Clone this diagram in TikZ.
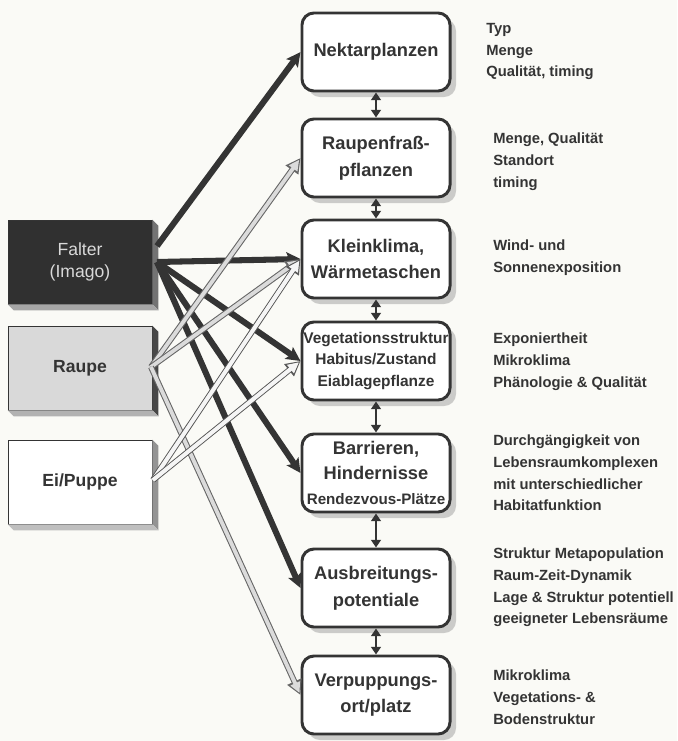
\documentclass[tikz,border=0pt]{standalone}
\usepackage{fontspec}
\setmainfont{Liberation Sans}
\usetikzlibrary{arrows.meta,shadows,calc}
\definecolor{paper}{RGB}{250,250,246}
\definecolor{ink}{RGB}{52,52,52}

\begin{document}
\begin{tikzpicture}[x=0.025cm, y=-0.025cm, font=\bfseries,
      stage/.style={draw=ink, line width=2.1pt, rounded corners=0.3cm, fill=white, text=ink,
        minimum width=3.7cm, minimum height=1.95cm, align=center, inner xsep=0pt,
        font=\bfseries\fontsize{13}{19}\selectfont,
        drop shadow={shadow xshift=0.15cm, shadow yshift=-0.15cm, fill=black!38}},
      phase/.style={draw=ink, line width=0.5pt, minimum width=3.6cm, minimum height=2.1cm,
        align=center, text=ink, font=\bfseries\fontsize{12.5}{16}\selectfont},
      note/.style={anchor=north west, align=left, inner sep=0pt, text=ink,
        font=\bfseries\fontsize{10.5}{15.35}\selectfont},
      imago/.style={draw=ink, line width=4.3pt, -{Stealth[length=10pt, width=10pt, inset=2pt]}},
      larva/.style={draw=black!60, line width=4.2pt, -{Triangle[length=10.5pt, width=10.5pt]},
        postaction={draw=black!14, line width=2.7pt, -{Triangle[length=7.5pt, width=7pt]}, shorten >=1.6pt}},
      egg/.style={larva, draw=black!65, postaction={draw=white!96!black, line width=2.7pt,
        -{Triangle[length=7.5pt, width=7pt]}, shorten >=1.6pt}},
      link/.style={draw=ink, line width=1.5pt, {Triangle[length=5.5pt, width=7pt]}-{Triangle[length=5.5pt, width=7pt]}}]
    \fill[paper] (0,0) rectangle (677,741);

    % life stages
    \node[phase, fill=black!81, text=white!85!black, font=\fontsize{12.5}{16}\selectfont] (falter) at (80,262) {Falter\\(Imago)};
    \node[phase, fill=black!15] (raupe) at (80,368) {Raupe};
    \node[phase, fill=white] (ei) at (80,482) {Ei/Puppe};
    \foreach \n/\s/\b in {falter/black!55/black!35, raupe/black!72/black!30, ei/black!42/black!25} {
      \fill[\s] (\n.north east) -- ++(6,6) -- ($(\n.south east)+(6,6)$) -- (\n.south east) -- cycle;
      \fill[\b] (\n.south west) -- (\n.south east) -- ($(\n.south east)+(6,6)$) -- ($(\n.south west)+(6,6)$) -- cycle;
    }
    \coordinate (falterout) at (157,262);
    \coordinate (raupeout) at (151,367);
    \coordinate (eiout) at (153,480);

    % habitat requirements
    \node[stage] (nektar) at (376,52) {Nektarplanzen};
    \node[stage] (raupenfrass) at (376,158) {Raupenfraß-\\pflanzen};
    \node[stage] (kleinklima) at (376,259) {Kleinklima,\\Wärmetaschen};
    \node[stage, font=\bfseries\fontsize{11}{15.5}\selectfont] (vegstruktur) at (376,361) {Vegetationsstruktur\\Habitus/Zustand\\Eiablagepflanze};
    \node[stage, font=\bfseries\fontsize{13}{17.5}\selectfont] (barrieren) at (376,473) {Barrieren,\\Hindernisse\\{\fontsize{10.8}{14}\selectfont Rendezvous-Plätze}};
    \node[stage] (ausbreitung) at (376,588) {Ausbreitungs-\\potentiale};
    \node[stage] (verpuppung) at (376,695) {Verpuppungs-\\ort/platz};

    \draw[link] (nektar) -- (raupenfrass);
    \draw[link] (raupenfrass) -- (kleinklima);
    \draw[link] (kleinklima) -- (vegstruktur);
    \draw[link] (vegstruktur) -- (barrieren);
    \draw[link] (barrieren) -- (ausbreitung);
    \draw[link] (ausbreitung) -- (verpuppung);

    \draw[imago] ([yshift=0.4cm]falterout) -- (nektar.west);
    \draw[imago] (falterout) -- (kleinklima.west);
    \draw[imago] (falterout) -- (vegstruktur.west);
    \draw[imago] (falterout) -- (barrieren.west);
    \draw[imago] (falterout) -- (ausbreitung.west);

    \draw[larva] (raupeout) -- (raupenfrass.west);
    \draw[larva] (raupeout) -- (kleinklima.west);
    \draw[larva] (raupeout) -- (verpuppung.west);
    \draw[egg] (eiout) -- (kleinklima.west);
    \draw[egg] (eiout) -- (vegstruktur.west);

    % details
    \node[note] (n1) at (486,23) {Typ\\Menge\\Qualität, timing};
    \node[note] (n2) at (493,133) {Menge, Qualität\\Standort\\timing};
    \node[note] (n3) at (493,240) {Wind- und\\Sonnenexposition};
    \node[note] (n4) at (493,333) {Exponiertheit\\Mikroklima\\Phänologie \& Qualität};
    \node[note] (n5) at (493,435) {Durchgängigkeit von\\Lebensraumkomplexen\\mit unterschiedlicher\\Habitatfunktion};
    \node[note] (n6) at (493,548) {Struktur Metapopulation\\Raum-Zeit-Dynamik\\Lage \& Struktur potentiell\\geeigneter Lebensräume};
    \node[note] (n7) at (493,670) {Mikroklima\\Vegetations- \&\\Bodenstruktur};
  \end{tikzpicture}
\end{document}
